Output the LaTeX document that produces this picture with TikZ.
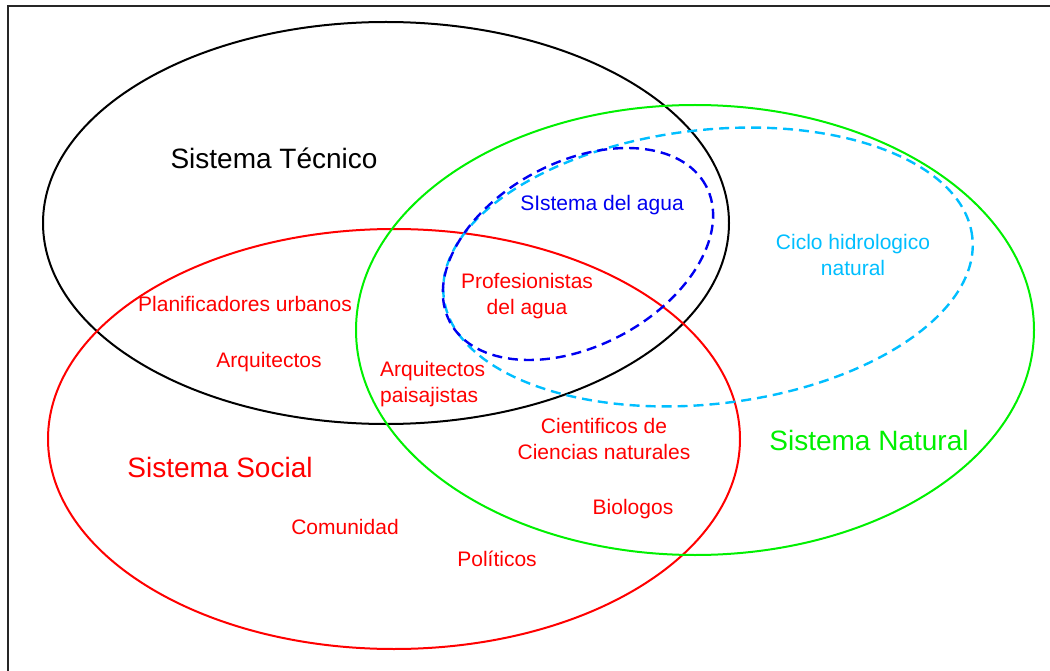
\documentclass[tikz,border=0pt]{standalone}
\usepackage{fontspec}
\setmainfont{Liberation Sans}
\definecolor{ciclo}{RGB}{0,190,255}
\definecolor{agua}{RGB}{0,0,240}
\definecolor{rojo}{RGB}{255,0,0}
\definecolor{verde}{RGB}{0,240,0}
\begin{document}
\begin{tikzpicture}[x=1pt,y=-1pt,
  smalltxt/.style={font=\fontsize{21}{26}\selectfont, inner sep=0pt},
  bigtxt/.style={font=\fontsize{28}{33}\selectfont, inner sep=0pt},
  setline/.style={line width=2pt},
  dashline/.style={line width=2.4pt, dash pattern=on 10pt off 6pt}]
\useasboundingbox (0,0) rectangle (1050,671);
% frame
\draw[line width=2pt, black!85] (8,700) -- (8,6) -- (1080,6);
% ellipses
\draw[setline, black] (386,223) ellipse [x radius=343pt, y radius=201pt];
\draw[setline, rojo] (394,439) ellipse [x radius=346pt, y radius=210pt];
\draw[setline, verde] (695,330) ellipse [x radius=339pt, y radius=225pt];
\draw[dashline, ciclo, rotate around={6.5:(708,267)}] (708,267) ellipse [x radius=266pt, y radius=137pt];
\draw[dashline, agua, rotate around={28:(578,254)}] (578,254) ellipse [x radius=145pt, y radius=92pt];
% labels
\node[bigtxt, black] (tec) at (274,158) {Sistema Técnico};
\node[bigtxt, rojo] (soc) at (220,467) {Sistema Social};
\node[bigtxt, verde] (nat) at (869,440) {Sistema Natural};
\node[smalltxt, agua] (agu) at (602,205) {SIstema del agua};
\node[smalltxt, ciclo, align=center] (cic) at (853,255) {Ciclo hidrologico\\natural};
\node[smalltxt, rojo, align=center] (pro) at (527,296) {Profesionistas\\del agua};
\node[smalltxt, rojo] (pla) at (245,304) {Planificadores urbanos};
\node[smalltxt, rojo] (arq) at (269,362) {Arquitectos};
\node[smalltxt, rojo, align=left, anchor=west] (pai) at (380,384) {Arquitectos\\paisajistas};
\node[smalltxt, rojo, align=center] (cie) at (604,439) {Cientificos de\\Ciencias naturales};
\node[smalltxt, rojo] (bio) at (633,509) {Biologos};
\node[smalltxt, rojo] (com) at (345,527) {Comunidad};
\node[smalltxt, rojo] (pol) at (497,559) {Políticos};
\end{tikzpicture}
\end{document}
